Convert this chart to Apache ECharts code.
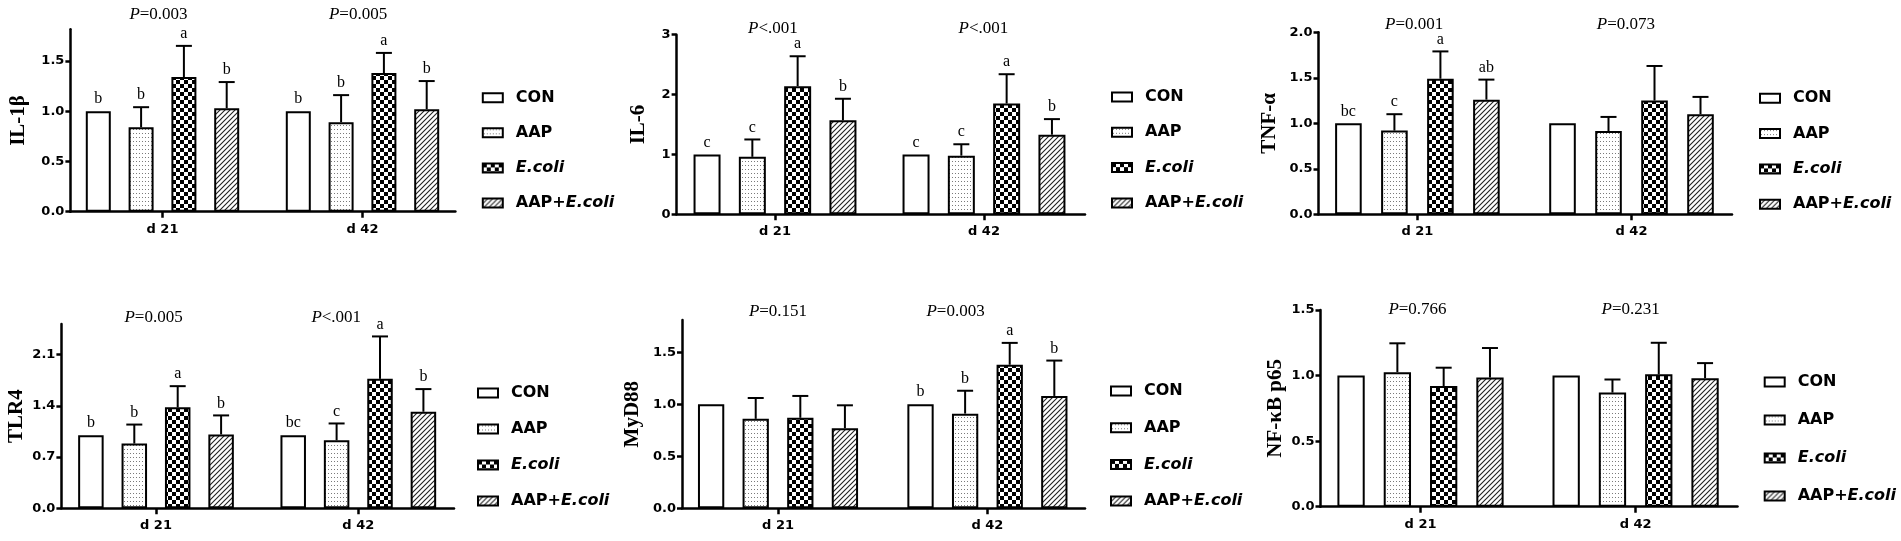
<!DOCTYPE html>
<html>
<head>
<meta charset="utf-8">
<script src="https://cdn.jsdelivr.net/npm/echarts@6/dist/echarts.min.js"></script>
<style>
html,body{margin:0;padding:0;background:#fff;}
#chart{width:1901px;height:541px;}
</style>
</head>
<body>
<div id="chart"></div>
<script>
// ---------- DATA ----------
const categories = ['d 21', 'd 42'];
const groupNames = ['CON', 'AAP', 'E.coli', 'AAP+E.coli'];

// rows = groups (CON, AAP, E.coli, AAP+E.coli), columns = days (d 21, d 42)
const il1bMean = [[1.00, 1.00], [0.84, 0.89], [1.34, 1.38], [1.03, 1.02]];
const il1bSE = [[0, 0], [0.20, 0.27], [0.31, 0.20], [0.26, 0.28]];
const il1bLetters = [['b', 'b'], ['b', 'b'], ['a', 'a'], ['b', 'b']];
const il1bP = ['P=0.003', 'P=0.005'];
const il1bTicks = [0, 0.5, 1.0, 1.5];

const il6Mean = [[1.00, 1.00], [0.96, 0.98], [2.14, 1.85], [1.57, 1.33]];
const il6SE = [[0, 0], [0.29, 0.19], [0.50, 0.49], [0.36, 0.26]];
const il6Letters = [['c', 'c'], ['c', 'c'], ['a', 'a'], ['b', 'b']];
const il6P = ['P<.001', 'P<.001'];
const il6Ticks = [0, 1, 2, 3];

const tnfMean = [[1.00, 1.00], [0.92, 0.915], [1.49, 1.25], [1.26, 1.10]];
const tnfSE = [[0, 0], [0.18, 0.155], [0.30, 0.38], [0.22, 0.19]];
const tnfLetters = [['bc', ''], ['c', ''], ['a', ''], ['ab', '']];
const tnfP = ['P=0.001', 'P=0.073'];
const tnfTicks = [0, 0.5, 1.0, 1.5, 2.0];

const tlr4Mean = [[1.00, 1.00], [0.885, 0.93], [1.38, 1.77], [1.01, 1.32]];
const tlr4SE = [[0, 0], [0.26, 0.23], [0.29, 0.58], [0.26, 0.31]];
const tlr4Letters = [['b', 'bc'], ['b', 'c'], ['a', 'a'], ['b', 'b']];
const tlr4P = ['P=0.005', 'P<.001'];
const tlr4Ticks = [0, 0.7, 1.4, 2.1];

const myd88Mean = [[1.00, 1.00], [0.86, 0.91], [0.87, 1.38], [0.77, 1.08]];
const myd88SE = [[0, 0], [0.20, 0.22], [0.21, 0.21], [0.22, 0.34]];
const myd88Letters = [['', 'b'], ['', 'b'], ['', 'a'], ['', 'b']];
const myd88P = ['P=0.151', 'P=0.003'];
const myd88Ticks = [0, 0.5, 1.0, 1.5];

const nfkbMean = [[1.00, 1.00], [1.026, 0.87], [0.92, 1.01], [0.985, 0.98]];
const nfkbSE = [[0, 0], [0.22, 0.10], [0.14, 0.24], [0.225, 0.115]];
const nfkbLetters = [['', ''], ['', ''], ['', ''], ['', '']];
const nfkbP = ['P=0.766', 'P=0.231'];
const nfkbTicks = [0, 0.5, 1.0, 1.5];

const panels = [
  {name: 'IL-1β', mean: il1bMean, se: il1bSE, letters: il1bLetters, p: il1bP, ticks: il1bTicks, yMax: 1.815, dec: 1},
  {name: 'IL-6', mean: il6Mean, se: il6SE, letters: il6Letters, p: il6P, ticks: il6Ticks, yMax: 3, dec: 0},
  {name: 'TNF-α', mean: tnfMean, se: tnfSE, letters: tnfLetters, p: tnfP, ticks: tnfTicks, yMax: 2, dec: 1},
  {name: 'TLR4', mean: tlr4Mean, se: tlr4SE, letters: tlr4Letters, p: tlr4P, ticks: tlr4Ticks, yMax: 2.52, dec: 1},
  {name: 'MyD88', mean: myd88Mean, se: myd88SE, letters: myd88Letters, p: myd88P, ticks: myd88Ticks, yMax: 1.81, dec: 1},
  {name: 'NF-κB p65', mean: nfkbMean, se: nfkbSE, letters: nfkbLetters, p: nfkbP, ticks: nfkbTicks, yMax: 1.5, dec: 1}
];

// ---------- LAYOUT ----------
const layouts = [
  {left: 70.4, top: 29.3, right: 455.4, bottom: 211.7, xMin: -0.4605, xMax: 1.4645, barW: 25, spacing: 42.8, nameGap: 41, pMargin: 5.8, pPos: [-0.02, 0.978], legLeft: 476.8, legTop: 84.7, legGap: 19.1},
  {left: 676.6, top: 34.7, right: 1085, bottom: 214.3, xMin: -0.4708, xMax: 1.4833, barW: 27, spacing: 45.3, nameGap: 27.5, pMargin: -2.1, pPos: [-0.01, 0.997], legLeft: 1106, legTop: 84, legGap: 19.3},
  {left: 1318.5, top: 32.3, right: 1732, bottom: 214.3, xMin: -0.462, xMax: 1.4694, barW: 26.6, spacing: 46, nameGap: 38, pMargin: -0.5, pPos: [-0.015, 0.974], legLeft: 1754, legTop: 85.3, legGap: 19.3},
  {left: 61.4, top: 324, right: 454, bottom: 508.3, xMin: -0.4676, xMax: 1.473, barW: 25.5, spacing: 43.4, nameGap: 34, pMargin: -1.8, pPos: [-0.012, 0.891], legLeft: 472, legTop: 380, legGap: 20},
  {left: 682, top: 320, right: 1085, bottom: 508.3, xMin: -0.4585, xMax: 1.466, barW: 26.3, spacing: 44.6, nameGap: 38.6, pMargin: -0.2, pPos: [0, 0.848], legLeft: 1105, legTop: 378, legGap: 20.7},
  {left: 1320.5, top: 310, right: 1737.5, bottom: 506.7, xMin: -0.465, xMax: 1.4737, barW: 27.3, spacing: 46.3, nameGap: 34, pMargin: -8.5, pPos: [-0.014, 0.977], legLeft: 1758.7, legTop: 369, legGap: 22}
];

// ---------- PATTERNS ----------
function makeCanvas(w, h, draw) {
  const c = document.createElement('canvas');
  c.width = w; c.height = h;
  const ctx = c.getContext('2d');
  ctx.fillStyle = '#fff';
  ctx.fillRect(0, 0, w, h);
  draw(ctx);
  return c;
}
const dotCanvas = makeCanvas(3, 4, ctx => { ctx.fillStyle = '#7a7a7a'; ctx.fillRect(1, 1, 1, 1); });
const checkCanvas = makeCanvas(8, 8, ctx => {
  ctx.fillStyle = '#000';
  ctx.fillRect(0, 0, 4, 4);
  ctx.fillRect(4, 4, 4, 4);
});
const hatchCanvas = makeCanvas(5, 5, ctx => {
  ctx.strokeStyle = '#222';
  ctx.lineWidth = 1.1;
  ctx.beginPath();
  ctx.moveTo(0, 5); ctx.lineTo(5, 0);
  ctx.moveTo(-1, 1); ctx.lineTo(1, -1);
  ctx.moveTo(4, 6); ctx.lineTo(6, 4);
  ctx.stroke();
});
const fills = [
  '#ffffff',
  {image: dotCanvas, repeat: 'repeat'},
  {image: checkCanvas, repeat: 'repeat'},
  {image: hatchCanvas, repeat: 'repeat'}
];

// ---------- OPTION ----------
const SANS = 'DejaVu Sans';
const SERIF = 'Liberation Serif';
const grid = [], xAxis = [], yAxis = [], series = [], legend = [];

panels.forEach((pn, i) => {
  const L = layouts[i];
  grid.push({left: L.left, top: L.top, width: L.right - L.left, height: L.bottom - L.top, containLabel: false});
  xAxis.push({
    type: 'value', gridIndex: i, min: L.xMin, max: L.xMax, position: 'bottom',
    splitLine: {show: false},
    axisLine: {show: true, onZero: false, lineStyle: {color: '#000', width: 2.5}},
    axisTick: {show: true, length: 6, lineStyle: {color: '#000', width: 2.5}, customValues: [0, 1]},
    axisLabel: {customValues: [0, 1], margin: 11, color: '#000', fontFamily: SANS, fontWeight: 'bold', fontSize: 13,
      formatter: v => categories[v < 0.5 ? 0 : 1]}
  });
  yAxis.push({
    type: 'value', gridIndex: i, min: 0, max: pn.yMax,
    name: pn.name, nameLocation: 'middle', nameRotate: 90, nameGap: L.nameGap,
    nameTextStyle: {fontFamily: SERIF, fontWeight: 'bold', fontSize: 21, color: '#000'},
    splitLine: {show: false},
    axisLine: {show: true, onZero: false, lineStyle: {color: '#000', width: 2.5}},
    axisTick: {show: true, length: 5, lineStyle: {color: '#000', width: 2.5}, customValues: pn.ticks},
    axisLabel: {customValues: pn.ticks, margin: 6, color: '#000', fontFamily: SANS, fontWeight: 'bold', fontSize: 13,
      formatter: v => v.toFixed(pn.dec)}
  });
});
// top axes carrying the P-value labels
panels.forEach((pn, i) => {
  const L = layouts[i];
  xAxis.push({
    type: 'value', gridIndex: i, min: L.xMin, max: L.xMax, position: 'top',
    splitLine: {show: false},
    axisLine: {show: false, onZero: false},
    axisTick: {show: false},
    axisLabel: {customValues: L.pPos, margin: L.pMargin, color: '#000', fontFamily: SERIF, fontSize: 17,
      formatter: v => {
        const t = pn.p[v < 0.5 ? 0 : 1];
        return '{i|' + t.charAt(0) + '}{n|' + t.slice(1) + '}';
      },
      rich: {
        i: {fontFamily: SERIF, fontStyle: 'italic', fontSize: 17, color: '#000'},
        n: {fontFamily: SERIF, fontSize: 17, color: '#000'}
      }}
  });
});

panels.forEach((pn, i) => {
  const L = layouts[i];
  groupNames.forEach((g, gi) => {
    series.push({
      type: 'bar', name: g, xAxisIndex: i, yAxisIndex: i,
      barWidth: L.barW, barGap: ((L.spacing - L.barW) / L.barW * 100).toFixed(2) + '%',
      itemStyle: {color: fills[gi], borderColor: '#000', borderWidth: 2},
      emphasis: {disabled: true}, silent: true, animation: false,
      data: categories.map((c, ci) => [ci, pn.mean[gi][ci]])
    });
  });
  const items = [];
  groupNames.forEach((g, gi) => {
    categories.forEach((c, ci) => {
      items.push([ci, pn.mean[gi][ci], pn.se[gi][ci], gi]);
    });
  });
  series.push({
    type: 'custom', xAxisIndex: i, yAxisIndex: i, z: 10, silent: true, animation: false,
    encode: {x: 0, y: 1},
    data: items,
    renderItem: (params, api) => {
      const d = items[params.dataIndex];
      const ci = d[0], m = d[1], se = d[2], gi = d[3];
      const off = (gi - 1.5) * L.spacing;
      const base = api.coord([ci, m]);
      const topPt = api.coord([ci, m + se]);
      const x = base[0] + off;
      const children = [];
      if (se > 0) {
        children.push({type: 'line', shape: {x1: x, y1: base[1], x2: x, y2: topPt[1]}, style: {stroke: '#000', lineWidth: 2}});
        children.push({type: 'line', shape: {x1: x - 8, y1: topPt[1], x2: x + 8, y2: topPt[1]}, style: {stroke: '#000', lineWidth: 2}});
      }
      const letter = pn.letters[gi][ci];
      if (letter) {
        children.push({type: 'text', style: {text: letter, x: x, y: topPt[1] - 4, align: 'center', verticalAlign: 'bottom',
          fontFamily: SERIF, fontSize: 16, fill: '#000'}});
      }
      return {type: 'group', children: children};
    }
  });
  legend.push({
    orient: 'vertical', left: L.legLeft, top: L.legTop, itemGap: L.legGap,
    itemWidth: 20, itemHeight: 9, icon: 'rect', selectedMode: false,
    data: groupNames,
    textStyle: {fontFamily: SANS, fontWeight: 'bold', fontSize: 16, color: '#000', lineHeight: 16, padding: [0, 0, 0, 8],
      rich: {i: {fontFamily: SANS, fontWeight: 'bold', fontStyle: 'italic', fontSize: 16, color: '#000'}}},
    formatter: name => {
      if (name === 'E.coli') return '{i|E.coli}';
      if (name === 'AAP+E.coli') return 'AAP+{i|E.coli}';
      return name;
    }
  });
});

const chart = echarts.init(document.getElementById('chart'), null, {renderer: 'canvas'});
chart.setOption({
  backgroundColor: '#fff',
  animation: false,
  grid: grid, xAxis: xAxis, yAxis: yAxis, legend: legend, series: series
});
</script>
</body>
</html>
